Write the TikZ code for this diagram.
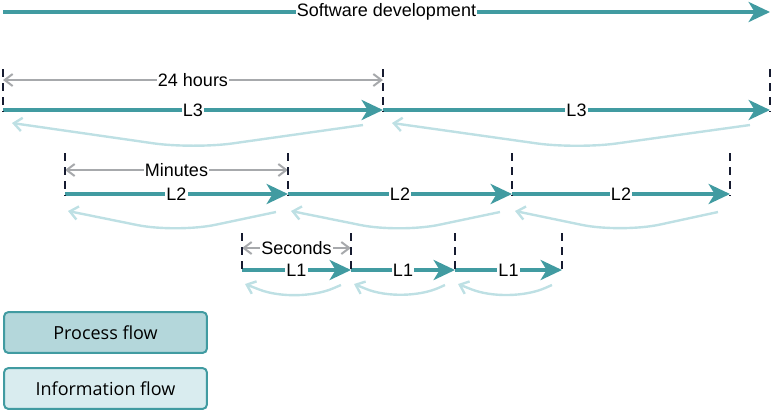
\documentclass[tikz,border=0pt]{standalone}
\usepackage{fontspec}
\setmainfont{Liberation Sans}
\newfontfamily\legendfont{Open Sans}
\usetikzlibrary{arrows.meta, calc}

\definecolor{flowteal}{RGB}{65,155,161}
\definecolor{infoblue}{RGB}{190,224,228}
\definecolor{spangray}{RGB}{167,169,172}
\definecolor{tickdark}{RGB}{22,27,48}
\definecolor{procfill}{RGB}{180,215,219}
\definecolor{infofill}{RGB}{217,236,239}

\begin{document}
\begin{tikzpicture}[
    x=0.75pt, y=-0.75pt,
    every node/.style={font=\fontsize{13.5}{16}\selectfont},
    process/.style={draw=flowteal, line width=3.3pt, -{Stealth[length=16pt, width=15pt, inset=4.5pt]}},
    info/.style={draw=infoblue, line width=1.8pt, rounded corners=30pt, -{Straight Barb[length=6pt, width=10pt]}},
    span/.style={draw=spangray, line width=1.5pt, {Straight Barb[length=6pt, width=9pt]}-{Straight Barb[length=6pt, width=9pt]}},
    tickline/.style={draw=tickdark, line width=1.5pt, dash pattern=on 6pt off 4.5pt},
    onlabel/.style={fill=white, inner sep=1pt},
    legendbox/.style={draw=flowteal, line width=1.5pt, rounded corners=3pt,
        minimum width=152pt, minimum height=30.5pt, font=\legendfont\fontsize{13.5}{16}\selectfont},
]
\useasboundingbox (0,0) rectangle (772,412);

% === Overall timeline ===
\coordinate (sdA) at (3,12);
\coordinate (sdB) at (770,12);
\draw[process] (sdA) -- node[onlabel]{Software development} (sdB);

% === Level 3: 24 hours ===
\foreach \n/\x in {a/3, b/383, c/770} {
    \coordinate (L3\n) at (\x,110);
}
\foreach \s/\e in {a/b, b/c} {
    \draw[process] (L3\s) -- node[onlabel]{L3} (L3\e);
    \draw[info] ($(L3\e)+(-20,15)$) -- ($(L3\s)!0.5!(L3\e)+(0,39)$) -- ($(L3\s)+(9,13)$);
}
\draw[span] ($(L3a)+(0,-30)$) -- node[onlabel]{24 hours} ($(L3b)+(0,-30)$);
\foreach \n in {a,b,c} {
    \draw[tickline] ($(L3\n)+(0,-41)$) -- ($(L3\n)+(0,2)$);
}

% === Level 2: minutes ===
\foreach \n/\x in {a/65, b/288, c/512, d/730} {
    \coordinate (L2\n) at (\x,194);
}
\foreach \s/\e in {a/b, b/c, c/d} {
    \draw[process] (L2\s) -- node[onlabel]{L2} (L2\e);
    \draw[info] ($(L2\e)+(-12,18)$) -- ($(L2\s)!0.5!(L2\e)+(0,39)$) -- ($(L2\s)+(3,17)$);
}
\draw[span] ($(L2a)+(0,-24)$) -- node[onlabel]{Minutes} ($(L2b)+(0,-24)$);
\foreach \n in {a,b,c,d} {
    \draw[tickline] ($(L2\n)+(0,-41)$) -- ($(L2\n)+(0,2)$);
}

% === Level 1: seconds ===
\foreach \n/\x in {a/242, b/351, c/455, d/562} {
    \coordinate (L1\n) at (\x,270);
}
\foreach \s/\e in {a/b, b/c, c/d} {
    \draw[process] (L1\s) -- node[onlabel]{L1} (L1\e);
    \draw[info] ($(L1\e)+(-10,15)$) -- ($(L1\s)!0.5!(L1\e)+(0,34)$) -- ($(L1\s)+(3,14)$);
}
\draw[span] ($(L1a)+(0,-22)$) -- node[onlabel]{Seconds} ($(L1b)+(0,-22)$);
\foreach \n in {a,b,c,d} {
    \draw[tickline] ($(L1\n)+(0,-37)$) -- ($(L1\n)+(0,2)$);
}

% === Legend ===
\node[legendbox, fill=procfill] (procLegend) at (105.5,332.5) {Process flow};
\node[legendbox, fill=infofill] (infoLegend) at (105.5,388.5) {Information flow};

\end{tikzpicture}
\end{document}
